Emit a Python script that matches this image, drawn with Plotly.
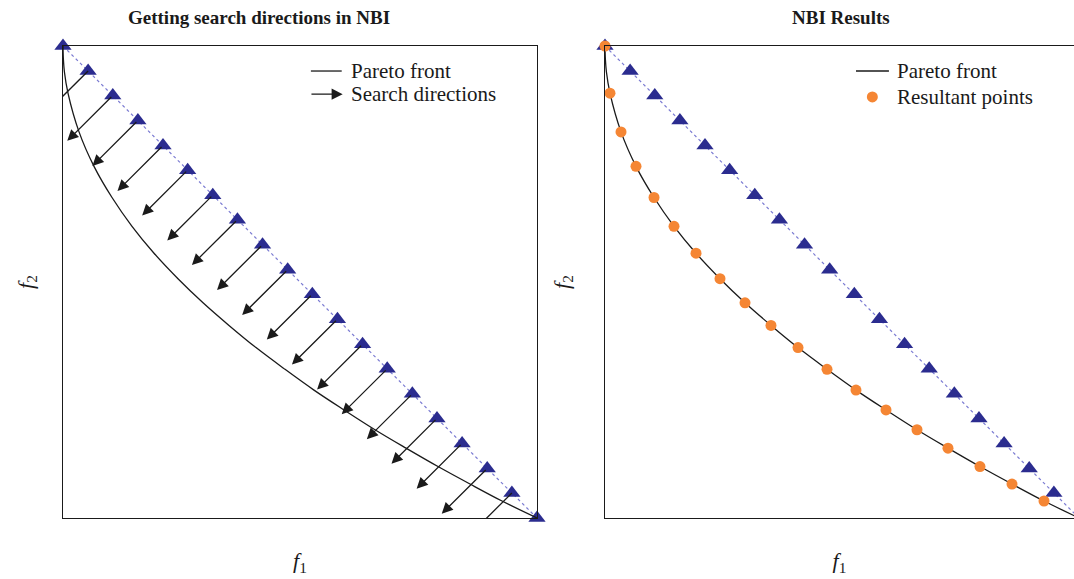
import plotly.graph_objects as go
from plotly.subplots import make_subplots

# Anchor points on the utopia line (CHIM), from (0, 1) to (1, 0)
anchor_f1 = [0.0, 0.053, 0.105, 0.158, 0.211, 0.263, 0.316, 0.368, 0.421, 0.474,
             0.526, 0.579, 0.632, 0.684, 0.737, 0.789, 0.842, 0.895, 0.947, 1.0]
anchor_f2 = [1.0, 0.947, 0.895, 0.842, 0.789, 0.737, 0.684, 0.632, 0.579, 0.526,
             0.474, 0.421, 0.368, 0.316, 0.263, 0.211, 0.158, 0.105, 0.053, 0.0]

# Pareto front samples
front_f1 = [0.0, 0.0008, 0.003, 0.0105, 0.0338, 0.0654, 0.1034, 0.1456, 0.192, 0.2426,
            0.2954, 0.3502, 0.4072, 0.4684, 0.5295, 0.5928, 0.6582, 0.7236, 0.7911,
            0.8586, 0.9262, 1.0]
front_f2 = [1.0, 0.972, 0.945, 0.900, 0.818, 0.745, 0.679, 0.618, 0.561, 0.507,
            0.456, 0.408, 0.361, 0.315, 0.271, 0.229, 0.187, 0.148, 0.109,
            0.072, 0.036, 0.0]

# NBI solutions found along each search direction
result_f1 = [0.0, 0.0105, 0.0338, 0.0654, 0.1034, 0.1456, 0.192, 0.2426, 0.2954, 0.3502,
             0.4072, 0.4684, 0.5295, 0.5928, 0.6582, 0.7236, 0.7911, 0.8586, 0.9262, 1.0]
result_f2 = [1.0, 0.900, 0.818, 0.745, 0.679, 0.618, 0.561, 0.507, 0.456, 0.408,
             0.361, 0.315, 0.271, 0.229, 0.187, 0.148, 0.109, 0.072, 0.036, 0.0]

# Length of each drawn search direction (along -f1 and -f2)
search_step = 0.096

NAVY = "#2B2C8F"
DOTTED = "#7B7BD2"
ORANGE = "#F58634"
INK = "#1a1a1a"
SERIF = "Liberation Serif, Times New Roman, serif"
ARROW = dict(showarrow=True, arrowhead=2, arrowsize=1.7, arrowwidth=1.3, arrowcolor=INK)

fig = make_subplots(rows=1, cols=2)

for col in (1, 2):
    fig.add_trace(go.Scatter(
        x=anchor_f1, y=anchor_f2, mode="lines+markers",
        line=dict(color=DOTTED, width=1.2, dash="dot"),
        marker=dict(symbol="triangle-up", size=15, color=NAVY),
        cliponaxis=False, showlegend=False), row=1, col=col)
    fig.add_trace(go.Scatter(
        x=front_f1, y=front_f2, mode="lines",
        line=dict(color=INK, width=1.3, shape="spline", smoothing=1.0),
        showlegend=False), row=1, col=col)

fig.add_trace(go.Scatter(
    x=result_f1, y=result_f2, mode="markers",
    marker=dict(symbol="circle", size=11, color=ORANGE),
    cliponaxis=False, showlegend=False), row=1, col=2)

# Search directions from the interior anchor points
annotations = []
seg_x, seg_y = [], []
for i in range(1, len(anchor_f1) - 1):
    x0, y0 = anchor_f1[i], anchor_f2[i]
    x1, y1 = x0 - search_step, y0 - search_step
    if x1 >= 0 and y1 >= 0:
        annotations.append(dict(
            x=x1, y=y1, ax=x0, ay=y0, xref="x", yref="y", axref="x", ayref="y",
            text="", **ARROW))
    else:
        seg_x += [x0, x1, None]
        seg_y += [y0, y1, None]

fig.add_trace(go.Scatter(x=seg_x, y=seg_y, mode="lines",
                         line=dict(color=INK, width=1.3), showlegend=False),
              row=1, col=1)

legend_font = dict(family=SERIF, size=21, color=INK)
shapes = []

# Legend, left panel
shapes.append(dict(type="line", xref="x", yref="y", x0=0.523, x1=0.588,
                   y0=0.947, y1=0.947, line=dict(color=INK, width=1.3)))
annotations.append(dict(x=0.604, y=0.947, xref="x", yref="y", text="Pareto front",
                        showarrow=False, xanchor="left", yanchor="middle", font=legend_font))
annotations.append(dict(x=0.590, y=0.898, ax=0.521, ay=0.898, xref="x", yref="y",
                        axref="x", ayref="y", text="", **ARROW))
annotations.append(dict(x=0.604, y=0.898, xref="x", yref="y", text="Search directions",
                        showarrow=False, xanchor="left", yanchor="middle", font=legend_font))

# Legend, right panel
shapes.append(dict(type="line", xref="x2", yref="y2", x0=0.5295, x1=0.599,
                   y0=0.947, y1=0.947, line=dict(color=INK, width=1.3)))
annotations.append(dict(x=0.612, y=0.947, xref="x2", yref="y2", text="Pareto front",
                        showarrow=False, xanchor="left", yanchor="middle", font=legend_font))
shapes.append(dict(type="circle", xref="x2", yref="y2", xsizemode="pixel",
                   ysizemode="pixel", xanchor=0.564, yanchor=0.892,
                   x0=-5.5, x1=5.5, y0=-5.5, y1=5.5, fillcolor=ORANGE,
                   line=dict(color=ORANGE, width=0)))
annotations.append(dict(x=0.612, y=0.892, xref="x2", yref="y2", text="Resultant points",
                        showarrow=False, xanchor="left", yanchor="middle", font=legend_font))

# Panel titles
title_font = dict(family=SERIF, size=19, color=INK, weight="bold")
annotations.append(dict(x=259 / 1074, y=1.0, xref="paper", yref="paper", yshift=29,
                        text="<b>Getting search directions in NBI</b>", showarrow=False,
                        xanchor="center", yanchor="middle", font=title_font))
annotations.append(dict(x=841 / 1074, y=1.0, xref="paper", yref="paper", yshift=29,
                        text="<b>NBI Results</b>", showarrow=False,
                        xanchor="center", yanchor="middle", font=title_font))

axis_common = dict(showgrid=False, zeroline=False, showticklabels=False, ticks="",
                   showline=True, linecolor=INK, linewidth=1.2)
label_font = dict(family=SERIF, size=22, color=INK)

fig.update_xaxes(axis_common)
fig.update_yaxes(axis_common)

fig.update_layout(
    width=1074, height=579,
    margin=dict(l=0, r=0, t=46, b=61),
    plot_bgcolor="white", paper_bgcolor="white",
    showlegend=False,
    xaxis=dict(domain=[63 / 1074, 537 / 1074], range=[0, 1], mirror=True,
               title=dict(text="<i>f</i><sub>1</sub>", font=label_font, standoff=34)),
    yaxis=dict(range=[0, 1], mirror=True,
               title=dict(text="<i>f</i><sub>2</sub>", font=label_font, standoff=22)),
    xaxis2=dict(domain=[605 / 1074, 1.0], range=[0, (1074 - 605) / 474], mirror=True,
                title=dict(text="<i>f</i><sub>1</sub>", font=label_font, standoff=34)),
    yaxis2=dict(range=[0, 1], mirror=False,
                title=dict(text="<i>f</i><sub>2</sub>", font=label_font, standoff=28)),
    annotations=annotations,
    shapes=shapes,
)

fig.write_html("out.html")
